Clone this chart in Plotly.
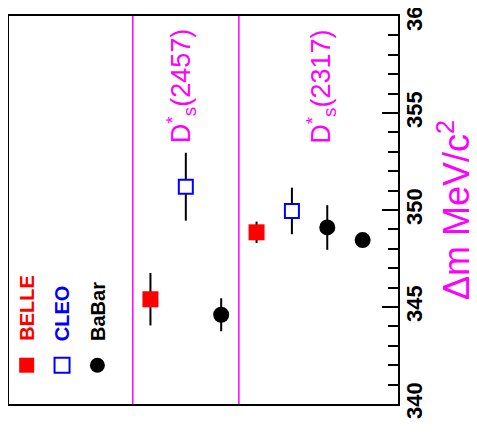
import plotly.graph_objects as go

# ---------------- data ----------------
experiments = ["BELLE", "CLEO", "BaBar"]
exp_colors = ["#FF0000", "#0000FF", "#000000"]
legend_slots = [0, 1, 2]

belle_slots = [3.5, 6.5]
belle_dm = [345.4, 348.85]
belle_err = [1.35, 0.55]

cleo_slots = [4.5, 7.5]
cleo_dm = [351.2, 349.95]
cleo_err = [1.75, 1.2]

babar_slots = [5.5, 8.5, 9.5]
babar_dm = [344.6, 349.1, 348.45]
babar_err = [0.85, 1.15, 0.3]

state_labels = ["D<sup>*</sup><sub>s</sub>(2457)", "D<sup>*</sup><sub>s</sub>(2317)"]
state_label_slots = [4.35, 8.3]
separator_slots = [3, 6]

y_ticks = [340, 345, 350, 355, 360]
y_range = [340, 360]
x_range = [-0.5, 10.5]

MAGENTA = "#FF00FF"
NARROW = "Liberation Sans Narrow, Arial Narrow, Liberation Sans, Arial, sans-serif"
REG = "Liberation Sans, Arial, sans-serif"

fig = go.Figure()

err_style = dict(type="data", visible=True, thickness=2, width=0, color="black")

fig.add_trace(go.Scatter(
    x=belle_slots, y=belle_dm, mode="markers",
    error_y=dict(array=belle_err, **err_style),
    marker=dict(symbol="square", size=16, color=exp_colors[0], line=dict(width=0)),
    showlegend=False, hoverinfo="skip"))
fig.add_trace(go.Scatter(
    x=cleo_slots, y=cleo_dm, mode="markers",
    error_y=dict(array=cleo_err, **err_style),
    marker=dict(symbol="square", size=14, color="white", line=dict(width=2, color=exp_colors[1])),
    showlegend=False, hoverinfo="skip"))
fig.add_trace(go.Scatter(
    x=babar_slots, y=babar_dm, mode="markers",
    error_y=dict(array=babar_err, **err_style),
    marker=dict(symbol="circle", size=16, color=exp_colors[2], line=dict(width=0)),
    showlegend=False, hoverinfo="skip"))

shapes = []
for s in separator_slots:
    shapes.append(dict(type="line", xref="x", yref="paper", x0=s, x1=s, y0=0, y1=1,
                       line=dict(color=MAGENTA, width=1.5), layer="above"))

# legend markers (rotated legend drawn by hand)
leg_y = 0.1
symbols = ["rect", "rect", "circle"]
for i, (slot, col) in enumerate(zip(legend_slots, exp_colors)):
    fill = col if i != 1 else "white"
    shapes.append(dict(type=symbols[i], xref="x", yref="paper",
                       xsizemode="pixel", ysizemode="pixel",
                       xanchor=slot, yanchor=leg_y,
                       x0=-7.5, x1=7.5, y0=-7.5, y1=7.5,
                       fillcolor=fill,
                       line=dict(color=col, width=2 if i == 1 else 0)))

annotations = []
for slot, name, col in zip(legend_slots, experiments, exp_colors):
    annotations.append(dict(x=slot, y=0.157, xref="x", yref="paper",
                            text="<b>%s</b>" % name, textangle=-90, showarrow=False,
                            xanchor="center", yanchor="bottom",
                            font=dict(family=NARROW, size=20, color=col)))
for slot, lab in zip(state_label_slots, state_labels):
    annotations.append(dict(x=slot, y=0.97, xref="x", yref="paper",
                            text=lab, textangle=-90, showarrow=False,
                            xanchor="center", yanchor="top",
                            font=dict(family=NARROW, size=27, color=MAGENTA)))

# the page adds an 8px body margin, so the figure is offset by 8px
fig.update_layout(
    width=469, height=435,
    margin=dict(l=1, r=79, t=8, b=39, pad=0, autoexpand=False),
    paper_bgcolor="white", plot_bgcolor="white",
    shapes=shapes, annotations=annotations,
    xaxis=dict(range=x_range, showgrid=False, zeroline=False, showticklabels=False,
               automargin=False,
               ticks="", showline=True, mirror=True, linecolor="black", linewidth=2),
    yaxis=dict(range=y_range, side="right", showgrid=False, zeroline=False,
               automargin=False,
               tickmode="array", tickvals=y_ticks, ticktext=["<b>%d</b>" % t for t in y_ticks],
               ticks="inside", ticklen=16, tickwidth=2, tickcolor="black",
               minor=dict(dtick=1, ticks="inside", ticklen=10, tickwidth=2, tickcolor="black"),
               tickangle=-90, ticklabelstandoff=-4, ticklabeloverflow="allow",
               tickfont=dict(family=NARROW, size=22, color="black"),
               showline=True, mirror=True, linecolor="black", linewidth=2,
               title=dict(text="Δm MeV/c<sup>2</sup>", standoff=26,
                          font=dict(family=REG, size=36, color=MAGENTA))),
)

fig.write_html("out.html")
